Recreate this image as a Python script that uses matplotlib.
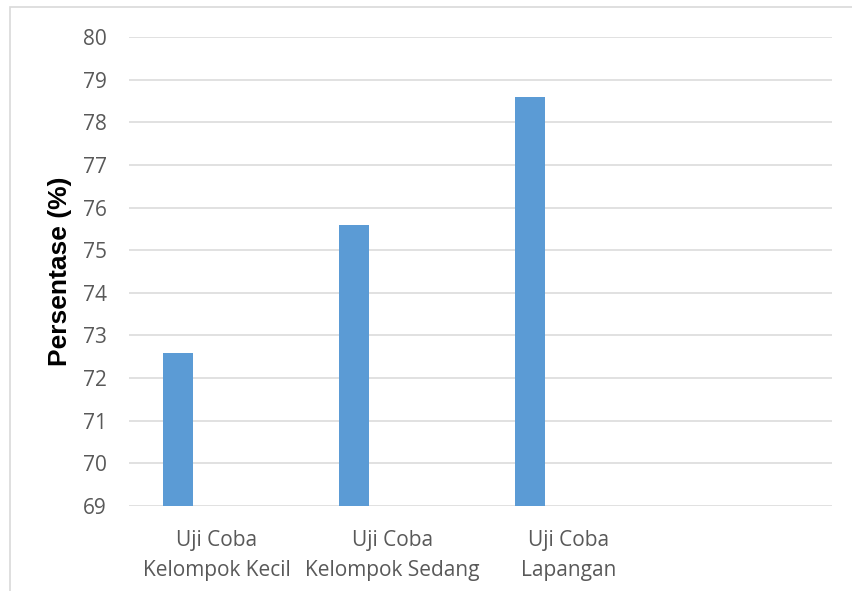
import matplotlib
matplotlib.use("Agg")
import matplotlib.pyplot as plt
from matplotlib.patches import Rectangle
import numpy as np

categories = ["Uji Coba\nKelompok Kecil", "Uji Coba\nKelompok Sedang", "Uji Coba\nLapangan", ""]
values = [72.6, 75.6, 78.6]
yticks = list(range(69, 81))

fig = plt.figure(figsize=(8.52, 5.91), dpi=100)
ax = fig.add_axes([129/852, 1-506/591, (832-129)/852, (506-37)/591])

x = np.arange(len(values))
ax.bar(x - 0.221, [v - 69 for v in values], bottom=69, width=0.171, color="#5B9BD5", zorder=3)

ax.set_xlim(-0.5, 3.5)
ax.set_ylim(69, 80)
ax.set_yticks(yticks)
ax.set_yticklabels([str(t) for t in yticks], fontsize=15, color="#595959", family="Open Sans")
ax.set_xticks(np.arange(len(categories)))
ax.set_xticklabels(categories, fontsize=15, color="#595959", family="Open Sans", linespacing=1.6)
ax.tick_params(axis="y", length=0, pad=16)
ax.tick_params(axis="x", length=0, pad=17)
ax.grid(axis="y", color="#d9d9d9", linewidth=1.1, zorder=0)
for s in ax.spines.values():
    s.set_visible(False)
ax.set_ylabel("Persentase (%)", fontsize=19, fontweight="bold", family="Liberation Sans", color="black")
ax.yaxis.set_label_coords((72-129)/703, 0.5)

fig.patches.append(Rectangle((10/852, -0.1), 1.2, 1 - 7/591 + 0.1, transform=fig.transFigure,
                             fill=False, edgecolor="#d9d9d9", linewidth=1.2))

fig.savefig("out.png", dpi=100)
